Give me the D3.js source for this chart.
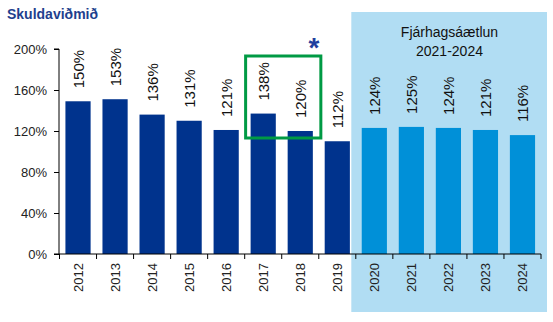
<!DOCTYPE html>
<html>
<head>
<meta charset="utf-8">
<script src="https://cdn.jsdelivr.net/npm/d3@7"></script>
<style>
  html, body { margin: 0; padding: 0; background: #fff; }
  svg { display: block; font-family: Arial, "Liberation Sans", sans-serif; }
</style>
</head>
<body>
<svg id="chart" width="553" height="322"></svg>
<script>
const years = ["2012","2013","2014","2015","2016","2017","2018","2019","2020","2021","2022","2023","2024"];
const values = [150, 153, 136, 131, 121, 138, 120, 112, 124, 125, 124, 121, 116];
const barValues = [149, 151, 136, 130, 121, 137, 120, 110, 123, 124, 123, 121, 116];
const forecastYears = ["2020","2021","2022","2023","2024"];
const highlightYears = ["2017","2018"];
const yTicks = [0, 40, 80, 120, 160, 200];
const title = "Skuldaviðmið";
const panelLines = ["Fjárhagsáætlun", "2021-2024"];

const svg = d3.select("#chart");
const x = d3.scaleBand().domain(years).range([59.5, 541]).paddingInner(0.32).paddingOuter(0.16);
const y = d3.scaleLinear().domain([0, 200]).range([254, 49]);

// forecast panel
const fx0 = x(forecastYears[0]) - x.step() * x.paddingInner() / 2 - 4.5;
svg.append("rect")
  .attr("x", fx0).attr("y", 12)
  .attr("width", 547 - fx0).attr("height", 300)
  .attr("fill", "#b1ddf3");

// title
svg.append("text").attr("x", 7).attr("y", 18.5)
  .attr("font-size", 14).attr("font-weight", "bold").attr("fill", "#1f3f8e")
  .text(title);

// panel title
svg.append("text").attr("x", 449.5).attr("y", 36.5)
  .attr("text-anchor", "middle").attr("font-size", 14).attr("fill", "#111")
  .selectAll("tspan").data(panelLines).join("tspan")
  .attr("x", 449.5).attr("dy", (d, i) => i === 0 ? 0 : 19).text(d => d);

// bars
svg.append("g").selectAll("rect").data(years).join("rect")
  .attr("x", d => x(d))
  .attr("width", x.bandwidth())
  .attr("y", (d, i) => y(barValues[i]))
  .attr("height", (d, i) => y(0) - y(barValues[i]))
  .attr("fill", d => forecastYears.includes(d) ? "#0090d8" : "#00338d");

// value labels
svg.append("g").selectAll("text").data(years).join("text")
  .attr("transform", (d, i) => `translate(${x(d) + x.bandwidth() / 2 + 5.5},${y(barValues[i]) - 13}) rotate(-90)`)
  .attr("font-size", 15).attr("fill", "#111")
  .text((d, i) => values[i] + "%");

// y axis
const yAxis = svg.append("g").attr("transform", "translate(59,0)")
  .call(d3.axisLeft(y).tickValues(yTicks).tickSize(5).tickPadding(7).tickFormat(d => d + "%"));
yAxis.selectAll("text").attr("font-size", 13).attr("fill", "#222").attr("font-family", "Arial, 'Liberation Sans', sans-serif");
yAxis.select(".domain").attr("d", `M-5,${y(200)}H0V${y(0)}H-5`).attr("stroke", "#000");
yAxis.selectAll(".tick line").attr("stroke", "#000");

// x axis
const xAxis = svg.append("g").attr("transform", `translate(0,${y(0)})`)
  .call(d3.axisBottom(x).tickSize(0).tickPadding(0));
xAxis.select(".domain").attr("d", `M59,0H541`).attr("stroke", "#000");
xAxis.selectAll(".tick text")
  .attr("font-size", 13).attr("fill", "#222").attr("font-family", "Arial, 'Liberation Sans', sans-serif")
  .attr("text-anchor", "end")
  .attr("transform", "translate(4.5,9) rotate(-90)")
  .attr("dy", 0).attr("y", 0);
// boundary ticks
const bounds = years.map(d => x(d) - x.step() * x.paddingInner() / 2).concat([x(years[years.length - 1]) + x.bandwidth() + x.step() * x.paddingInner() / 2]);
xAxis.append("g").selectAll("line").data(bounds).join("line")
  .attr("x1", d => d).attr("x2", d => d).attr("y1", 0).attr("y2", 5)
  .attr("stroke", "#000");

// highlight box
const hx0 = x(highlightYears[0]) - 5;
const hx1 = x(highlightYears[1]) + x.bandwidth() + 8;
svg.append("rect")
  .attr("x", hx0).attr("y", 56)
  .attr("width", hx1 - hx0).attr("height", 82)
  .attr("fill", "none").attr("stroke", "#009a44").attr("stroke-width", 3);

// asterisk
svg.append("text").attr("x", 314).attr("y", 57)
  .attr("text-anchor", "middle").attr("font-size", 28).attr("font-weight", "bold")
  .attr("fill", "#1f3f9e").text("*");
</script>
</body>
</html>
